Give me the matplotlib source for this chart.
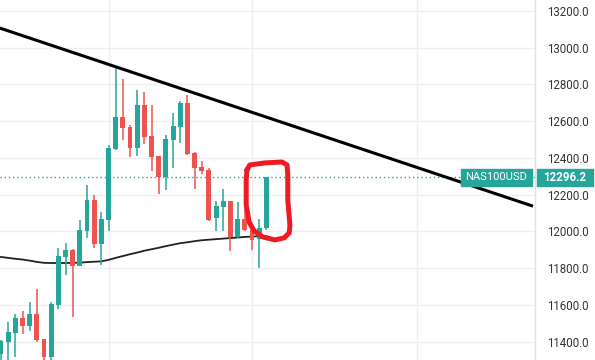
import numpy as np
import matplotlib.pyplot as plt
from matplotlib.patches import Rectangle

# candle data
opens = [11330, 11398, 11449, 11529, 11487, 11549, 11413, 11318, 11601, 11863,
         11899, 11814, 12004, 12171, 11933, 12062, 12451, 12623, 12569, 12456,
         12688, 12520, 12411, 12296, 12498, 12570, 12699, 12427, 12351, 12335,
         12075, 12135, 12166, 11968, 12068, 12008, 11957, 12017]
highs = [11410, 11509, 11551, 11567, 11616, 11687, 11415, 11616, 11908, 11937,
         11905, 12062, 12253, 12198, 12104, 12471, 12901, 12830, 12578, 12770,
         12759, 12688, 12413, 12523, 12645, 12710, 12743, 12430, 12385, 12347,
         12168, 12231, 12168, 12160, 12150, 12044, 12066, 12298]
lows = [11280, 11290, 11318, 11444, 11460, 11398, 11295, 11295, 11580, 11765,
        11536, 11810, 11966, 11912, 11819, 12004, 12445, 12500, 12407, 12412,
        12474, 12331, 12206, 12227, 12347, 12480, 12418, 12233, 12314, 12059,
        12004, 12004, 11895, 11963, 12000, 11899, 11803, 12008]
closes = [11405, 11453, 11529, 11487, 11549, 11408, 11318, 11604, 11865, 11899,
          11814, 12008, 12171, 11933, 12066, 12454, 12623, 12565, 12456, 12688,
          12516, 12407, 12296, 12503, 12574, 12699, 12423, 12347, 12329, 12062,
          12140, 12166, 11968, 12068, 12008, 11954, 12017, 12296.2]
ma = [11861, 11856, 11851, 11847, 11841, 11834, 11829, 11828, 11828, 11828,
      11829, 11830, 11833, 11835, 11837, 11845, 11856, 11866, 11876, 11885,
      11895, 11903, 11911, 11920, 11928, 11936, 11941, 11947, 11952, 11955,
      11958, 11961, 11964, 11967, 11970, 11972, 11974, 11975]

# drawn trend line (bar index, price)
trend_x = [0, 74]
trend_y = [13105, 12140]

# hand drawn red marker around last candles (bar index, price)
mark_x = [34.3, 34.7, 36.8, 39.2, 39.9, 40.0, 40.0, 40.3, 40.2, 39.5, 38.2,
          36.5, 35.3, 34.6, 34.2, 34.2, 34.3]
mark_y = [12335, 12362, 12373, 12378, 12362, 12307, 12171, 12035, 11992, 11965,
          11954, 11970, 12003, 12052, 12144, 12280, 12335]

yticks = [11400, 11600, 11800, 12000, 12200, 12400, 12600, 12800, 13000, 13200]
vgrid = [15, 35, 58]
symbol = 'NAS100USD'

green = '#26a69a'
red = '#ef5350'

plt.rcParams['font.family'] = ['Roboto', 'DejaVu Sans']

fig = plt.figure(figsize=(5.95, 3.6), dpi=100)
fig.patch.set_facecolor('white')
ax = fig.add_axes([0, 0, 535 / 595, 1])

x = np.arange(len(opens))
o = np.array(opens)
c = np.array(closes)
cols = [green if cc >= oo else red for oo, cc in zip(o, c)]
ax.vlines(x, lows, highs, colors=cols, linewidth=1.1, zorder=3)
bottom = np.minimum(o, c)
height = np.maximum(np.abs(c - o), 5)
ax.bar(x, height, bottom=bottom, width=0.68, color=cols, linewidth=0, zorder=4)

ax.plot(x, ma, color='#222222', linewidth=1.3, zorder=2)
ax.plot(trend_x, trend_y, color='black', linewidth=2.2, zorder=5)
ax.plot(mark_x, mark_y, color='#ec1c24', linewidth=3.6, solid_joinstyle='round',
        solid_capstyle='round', zorder=6)

last = closes[-1]
ax.axhline(last, color=green, linewidth=1, linestyle=(0, (1, 2)), zorder=1)

ax.set_xlim(-0.14, 74.48)
ax.set_ylim(11300, 13260)
ax.set_xticks(vgrid)
ax.set_yticks(yticks)
ax.yaxis.tick_right()
ax.tick_params(axis='y', length=0, pad=9, labelsize=8.3, labelcolor='#333333')
ax.tick_params(axis='x', length=0, labelbottom=False)
ax.set_yticklabels([f'{t:.1f}' for t in yticks])
ax.grid(True, color='#eeeeee', linewidth=1)
ax.set_axisbelow(True)
for s in ['top', 'left', 'bottom']:
    ax.spines[s].set_visible(False)
ax.spines['right'].set_color('#e0e0e0')
ax.spines['right'].set_linewidth(1)

# price labels
yl = ax.transData.transform((0, last))[1] / 360
fig.patches.append(Rectangle((461 / 595, yl - 8.5 / 360), 71 / 595, 17 / 360,
                             transform=fig.transFigure, color=green, zorder=10))
fig.text(496.5 / 595, yl, symbol, color='white', fontsize=8, ha='center', va='center', zorder=11)
fig.patches.append(Rectangle((537 / 595, yl - 8.5 / 360), 56 / 595, 17 / 360,
                             transform=fig.transFigure, color=green, zorder=10))
fig.text(565 / 595, yl, f'{last:.1f}', color='white', fontsize=8.3, fontweight='bold',
         ha='center', va='center', zorder=11)

plt.savefig('out.png', dpi=100)
